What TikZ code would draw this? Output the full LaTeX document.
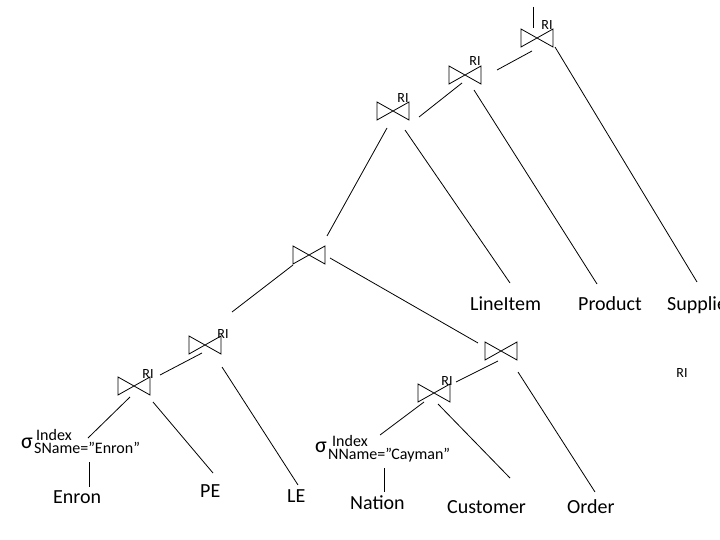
\documentclass[tikz,border=0pt]{standalone}
\usepackage{fontspec}
\setmainfont{Carlito}
\usetikzlibrary{calc}
\tikzset{
 jn/.style={minimum width=32pt,minimum height=18pt,inner sep=0pt,outer sep=0pt},
 lbl/.style={font=\fontsize{20}{24}\selectfont, anchor=base west, inner sep=0pt},
 ri/.style={font=\fontsize{14}{16}\selectfont, anchor=base, inner sep=0pt},
 sig/.style={font=\fontsize{22}{26}\selectfont, anchor=base west, inner sep=0pt},
 sml/.style={font=\fontsize{16}{18}\selectfont, anchor=base west, inner sep=0pt},
 con/.style={line width=0.8pt},
}
\newcommand\jnode[2]{\node[jn] (#1) at (#2) {}; \draw[con] (#1.north west) -- (#1.south west) -- (#1.north east) -- (#1.south east) -- cycle;}
\begin{document}
\begin{tikzpicture}[x=1pt,y=-1pt]
\useasboundingbox (0,0) rectangle (720,540);
% joins
\jnode{j1}{537,38}
\jnode{j2}{465,75}
\jnode{j3}{393,111}
\jnode{j4}{309,255}
\jnode{j5}{501,351}
\jnode{j6}{205,345}
\jnode{j7}{134,386}
\jnode{j8}{434,393}
% RI labels
\node[ri] (r1) at (547,30) {RI};
\node[ri] (r2) at (475,66) {RI};
\node[ri] (r3) at (403,103) {RI};
\node[ri] (r6) at (223,338) {RI};
\node[ri] (r7) at (148,378) {RI};
\node[ri] (r8) at (447,385) {RI};
\node[ri] (r9) at (682,377) {RI};
% relations
\node[lbl] (li) at (470,310) {LineItem};
\node[lbl] (pr) at (578,310) {Product};
\node[lbl] (su) at (667,310) {Supplier};
\node[lbl] (en) at (53,503) {Enron};
\node[lbl] (pe) at (200,497) {PE};
\node[lbl] (le) at (287,502) {LE};
\node[lbl] (na) at (350,509) {Nation};
\node[lbl] (cu) at (447,513) {Customer};
\node[lbl] (or) at (567,513) {Order};
% selections
\node[sig] (sE) at (21,448) {σ};
\node[sml] (iE) at (36,440) {Index};
\node[sml] (bE) at (34,453) {SName=”Enron”};
\node[sig] (sC) at (315,452) {σ};
\node[sml] (iC) at (332,446) {Index};
\node[sml] (bC) at (328,459) {NName=”Cayman”};
% connectors
\coordinate (t0) at (533,7);
\draw[con] (t0) -- ($(j1)+(-4,-10)$);
\draw[con] ($(j1)+(-5,13)$) -- ($(j2)+(32,-5)$);
\draw[con] ($(j1)+(18,9)$) -- ($(su.base west)+(30,-28)$);
\draw[con] ($(j2)+(-3,8)$) -- ($(j3)+(26,6)$);
\draw[con] ($(j2)+(9,15)$) -- ($(pr.base west)+(19,-26)$);
\draw[con] ($(j3)+(-6,17)$) -- ($(j4)+(18,-19)$);
\draw[con] ($(j3)+(12,19)$) -- ($(li.base west)+(40,-27)$);
\draw[con] ($(j4)+(21,3)$) -- ($(j5)+(-23,-8)$);
\draw[con] ($(j4)+(-16,10)$) -- ($(j6)+(27,-33)$);
\draw[con] ($(j6)+(-3,8)$) -- ($(j7)+(26,-11)$);
\draw[con] ($(j6)+(17,22)$) -- ($(le.base west)+(11,-17)$);
\draw[con] ($(j7)+(19,16)$) -- ($(pe.base west)+(13,-24)$);
\draw[con] ($(j7)+(-4,11)$) -- ($(iE.base west)+(52,-2)$);
\draw[con] ($(bE.base west)+(55,9)$) -- ($(en.base west)+(36,-16)$);
\draw[con] ($(j5)+(-3,10)$) -- ($(j8)+(22,-11)$);
\draw[con] ($(j5)+(17,21)$) -- ($(or.base west)+(28,-21)$);
\draw[con] ($(j8)+(-10,9)$) -- ($(iC.base west)+(48,-11)$);
\draw[con] ($(j8)+(4,11)$) -- ($(cu.base west)+(63,-35)$);
\draw[con] ($(bC.base west)+(56,9)$) -- ($(na.base west)+(34,-17)$);
\end{tikzpicture}
\end{document}
